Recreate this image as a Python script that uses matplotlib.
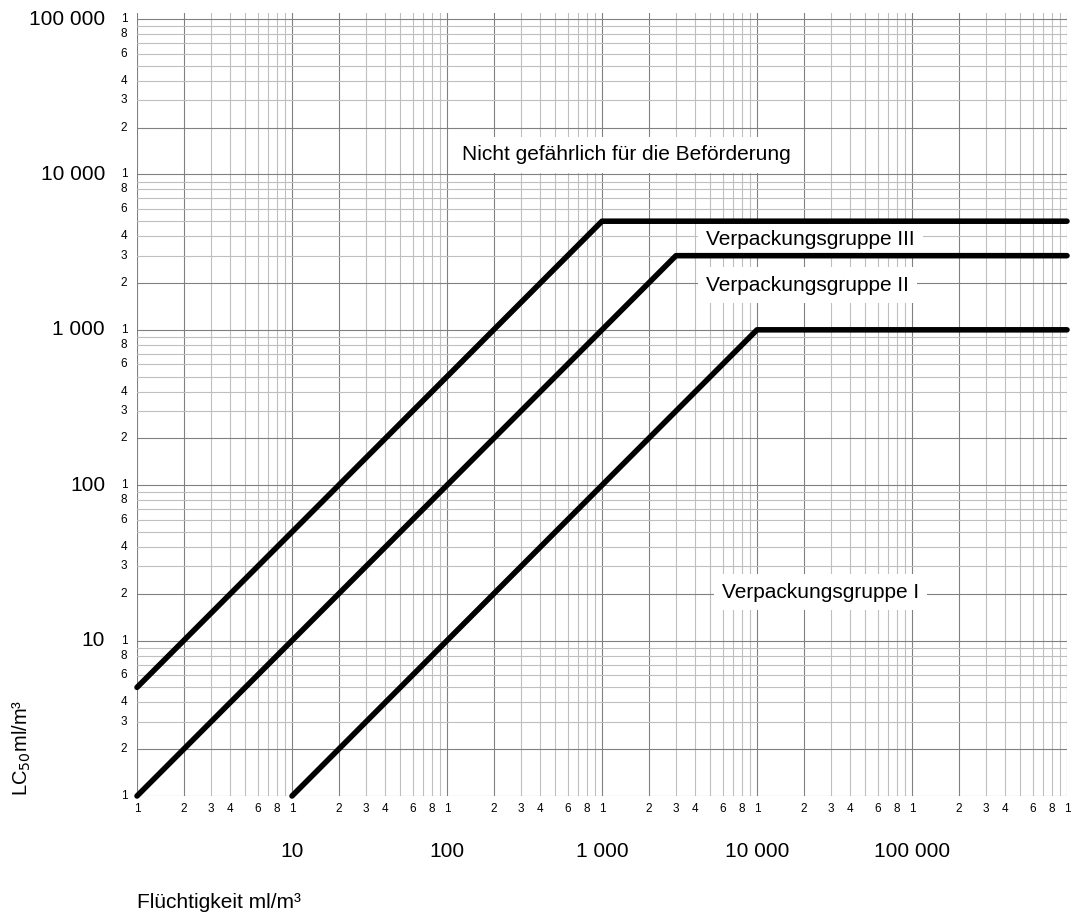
import numpy as np
import matplotlib
matplotlib.use('Agg')
import matplotlib.pyplot as plt

plt.rcParams['font.family'] = ['Liberation Sans', 'DejaVu Sans']

# Grenzlinien der Verpackungsgruppen (Flüchtigkeit, LC50)
x_gruppe_iii = [1, 1000, 1e6]
y_gruppe_iii = [5, 5000, 5000]
x_gruppe_ii = [1, 3000, 1e6]
y_gruppe_ii = [1, 3000, 3000]
x_gruppe_i = [10, 10000, 1e6]
y_gruppe_i = [1, 1000, 1000]

# Tick labels
small_digits = [1, 2, 3, 4, 6, 8]
x_decades = [10, 100, 1000, 10000, 100000]
x_decade_labels = ['10', '100', '1 000', '10 000', '100 000']
y_decades = [10, 100, 1000, 10000, 100000]
y_decade_labels = ['10', '100', '1 000', '10 000', '100 000']

fig = plt.figure(figsize=(10.73, 9.18), dpi=100)
ax = fig.add_axes([137 / 1073, 122 / 918, 930 / 1073, 783.4 / 918])
ax.set_xscale('log')
ax.set_yscale('log')
ax.set_xlim(1, 1e6)
ax.set_ylim(1, 1.1e5)
for s in ax.spines.values():
    s.set_visible(False)
ax.set_xticks([])
ax.set_yticks([])
ax.minorticks_off()

# log paper grid
for d in range(6):
    for m in range(1, 10):
        v = m * 10 ** d
        col = '0.5' if m in (1, 2) else '0.75'
        ax.axvline(v, color=col, lw=0.8, zorder=1)
for d in range(5):
    for m in range(1, 10):
        v = m * 10 ** d
        col = '0.5' if m in (1, 2) else '0.75'
        ax.axhline(v, color=col, lw=0.8, zorder=1)
ax.axvline(1e6, color='0.5', lw=0.8, zorder=1)
ax.axhline(1e5, color='0.5', lw=0.8, zorder=1)

# small digit labels
xt = ax.get_xaxis_transform()
yt = ax.get_yaxis_transform()
for d in range(6):
    for m in small_digits:
        ax.annotate(str(m), (m * 10 ** d, 0), xycoords=xt, xytext=(0, -9),
                    textcoords='offset points', ha='center', va='center',
                    fontsize=8.5, annotation_clip=False)
ax.annotate('1', (1e6, 0), xycoords=xt, xytext=(0, -9),
            textcoords='offset points', ha='center', va='center',
            fontsize=8.5, annotation_clip=False)
for d in range(5):
    for m in small_digits:
        ax.annotate(str(m), (0, m * 10 ** d), xycoords=yt, xytext=(-7, 0),
                    textcoords='offset points', ha='right', va='center',
                    fontsize=8.5, annotation_clip=False)
ax.annotate('1', (0, 1e5), xycoords=yt, xytext=(-7, 0),
            textcoords='offset points', ha='right', va='center',
            fontsize=8.5, annotation_clip=False)

# decade labels
for v, lab in zip(x_decades, x_decade_labels):
    ax.annotate(lab, (v, 0), xycoords=xt, xytext=(0, -40),
                textcoords='offset points', ha='center', va='center',
                fontsize=15, annotation_clip=False)
for v, lab in zip(y_decades, y_decade_labels):
    ax.annotate(lab, (0, v), xycoords=yt, xytext=(-23, 0),
                textcoords='offset points', ha='right', va='center',
                fontsize=15, annotation_clip=False)

# Grenzlinien
for xs, ys in [(x_gruppe_iii, y_gruppe_iii), (x_gruppe_ii, y_gruppe_ii), (x_gruppe_i, y_gruppe_i)]:
    ax.plot(xs, ys, color='black', lw=4, solid_capstyle='round', zorder=4, clip_on=False)

box = dict(boxstyle='square,pad=0.4', facecolor='white', edgecolor='none')
ax.text(1429, 13340, 'Nicht gefährlich für die Beförderung', fontsize=15,
        ha='center', va='center', bbox=box, zorder=3)
ax.text(4690, 3785, 'Verpackungsgruppe III', fontsize=15,
        ha='left', va='center', bbox=box, zorder=3)
ax.text(4690, 1941, 'Verpackungsgruppe II', fontsize=15,
        ha='left', va='center', bbox=box, zorder=3)
ax.text(5943, 20.5, 'Verpackungsgruppe I', fontsize=15,
        ha='left', va='center', bbox=box, zorder=3)

fig.text(22 / 1073, 1 - 748 / 918, 'LC$_{50}$ml/m³', rotation=90,
         ha='center', va='center', fontsize=14.5)
fig.text(137 / 1073, 1 - 903 / 918, 'Flüchtigkeit ml/m³', ha='left',
         va='center', fontsize=15)

fig.savefig('out.png', dpi=100, facecolor='white')
